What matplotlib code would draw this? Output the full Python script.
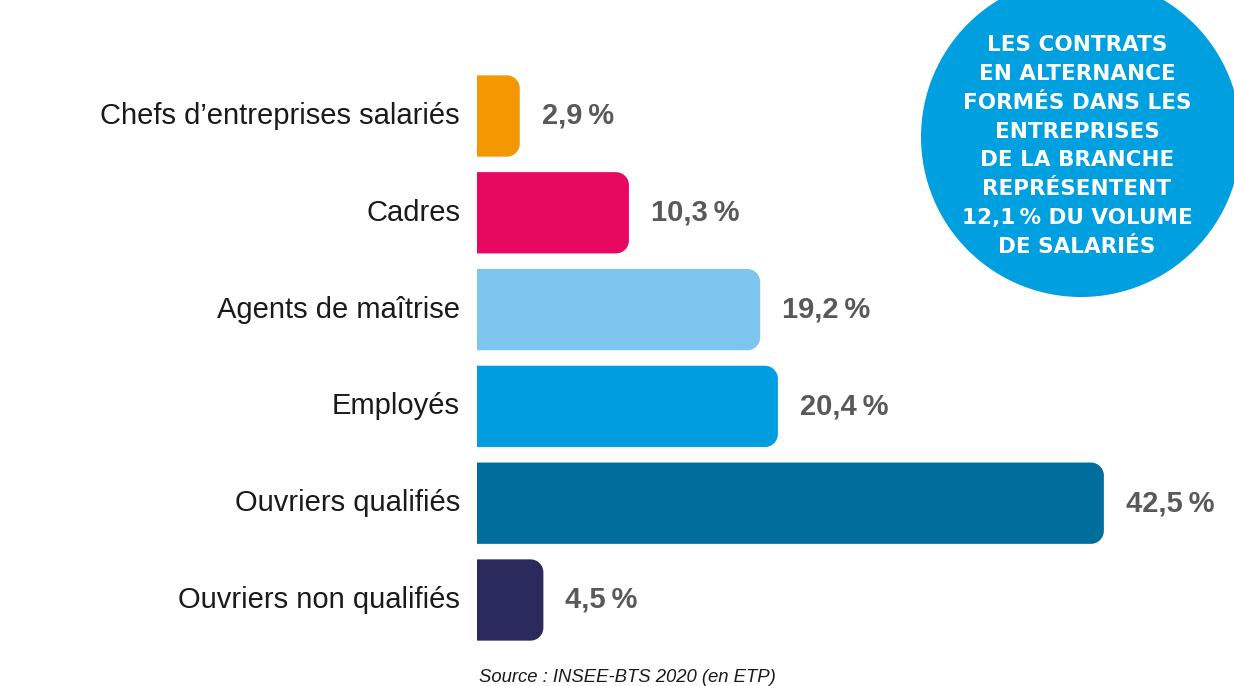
import matplotlib
matplotlib.use("Agg")
import matplotlib.pyplot as plt
from matplotlib.path import Path
from matplotlib.patches import PathPatch, Circle

categories = ["Chefs d\u2019entreprises salariés", "Cadres", "Agents de maîtrise",
              "Employés", "Ouvriers qualifiés", "Ouvriers non qualifiés"]
values = [2.9, 10.3, 19.2, 20.4, 42.5, 4.5]
colors = ["#F39800", "#E6095F", "#7DC4EE", "#009EE0", "#006E9C", "#2B2A5C"]
value_labels = ["2,9\u2009%", "10,3\u2009%", "19,2\u2009%", "20,4\u2009%", "42,5\u2009%", "4,5\u2009%"]
bubble_text = ("LES CONTRATS\nEN ALTERNANCE\nFORMÉS DANS LES\nENTREPRISES\n"
               "DE LA BRANCHE\nREPRÉSENTENT\n12,1\u2009% DU VOLUME\nDE SALARIÉS")
source = "Source : INSEE-BTS 2020 (en ETP)"

W, H = 1234, 686
fig = plt.figure(figsize=(W / 100, H / 100), dpi=100)

# pixel geometry of the bar area
x0_px = 477
px_per_unit = 14.75
row_px = 96.8
first_row_px = 116
bar_h = 0.84

ax = fig.add_axes([x0_px / W, 0, 1 - x0_px / W, 1])
ax.set_xlim(0, (W - x0_px) / px_per_unit)
ax.set_ylim((H - first_row_px) / row_px, -first_row_px / row_px)
ax.axis("off")


def right_rounded_bar(y, width, height, rx, ry):
    k = 0.5523
    x1 = width
    yt, yb = y - height / 2, y + height / 2
    verts = [(0, yt), (x1 - rx, yt),
             (x1 - rx + k * rx, yt), (x1, yt + ry - k * ry), (x1, yt + ry),
             (x1, yb - ry),
             (x1, yb - ry + k * ry), (x1 - rx + k * rx, yb), (x1 - rx, yb),
             (0, yb), (0, yt)]
    codes = [Path.MOVETO, Path.LINETO,
             Path.CURVE4, Path.CURVE4, Path.CURVE4,
             Path.LINETO,
             Path.CURVE4, Path.CURVE4, Path.CURVE4,
             Path.LINETO, Path.CLOSEPOLY]
    return Path(verts, codes)


radius_px = 13
for i, (v, c, lab) in enumerate(zip(values, colors, value_labels)):
    p = right_rounded_bar(i, v, bar_h, radius_px / px_per_unit, radius_px / row_px)
    ax.add_patch(PathPatch(p, facecolor=c, edgecolor="none"))
    ax.text(v + 22 / px_per_unit, i, lab, ha="left", va="center",
            fontsize=21, fontweight="bold", color="#595959",
            family=["Liberation Sans", "DejaVu Sans"])
    ax.text(-17 / px_per_unit, i, categories[i], ha="right", va="center",
            fontsize=21, color="#1a1a1a", family=["Liberation Sans", "DejaVu Sans"],
            clip_on=False)

# overlay in pixel coordinates for the bubble and source
ov = fig.add_axes([0, 0, 1, 1])
ov.set_xlim(0, W)
ov.set_ylim(H, 0)
ov.axis("off")
ov.patch.set_alpha(0)
ov.add_patch(Circle((1081, 137), 160, facecolor="#009FE0", edgecolor="none"))
ov.text(1077, 146, bubble_text, ha="center", va="center", color="white",
        fontsize=15.5, fontweight="bold", linespacing=1.55,
        family=["DejaVu Sans"])
ov.text(627, 677, source, ha="center", va="center", fontsize=13.3,
        style="italic", color="#1a1a1a", family=["Liberation Sans", "DejaVu Sans"])

fig.savefig("out.png", dpi=100)
